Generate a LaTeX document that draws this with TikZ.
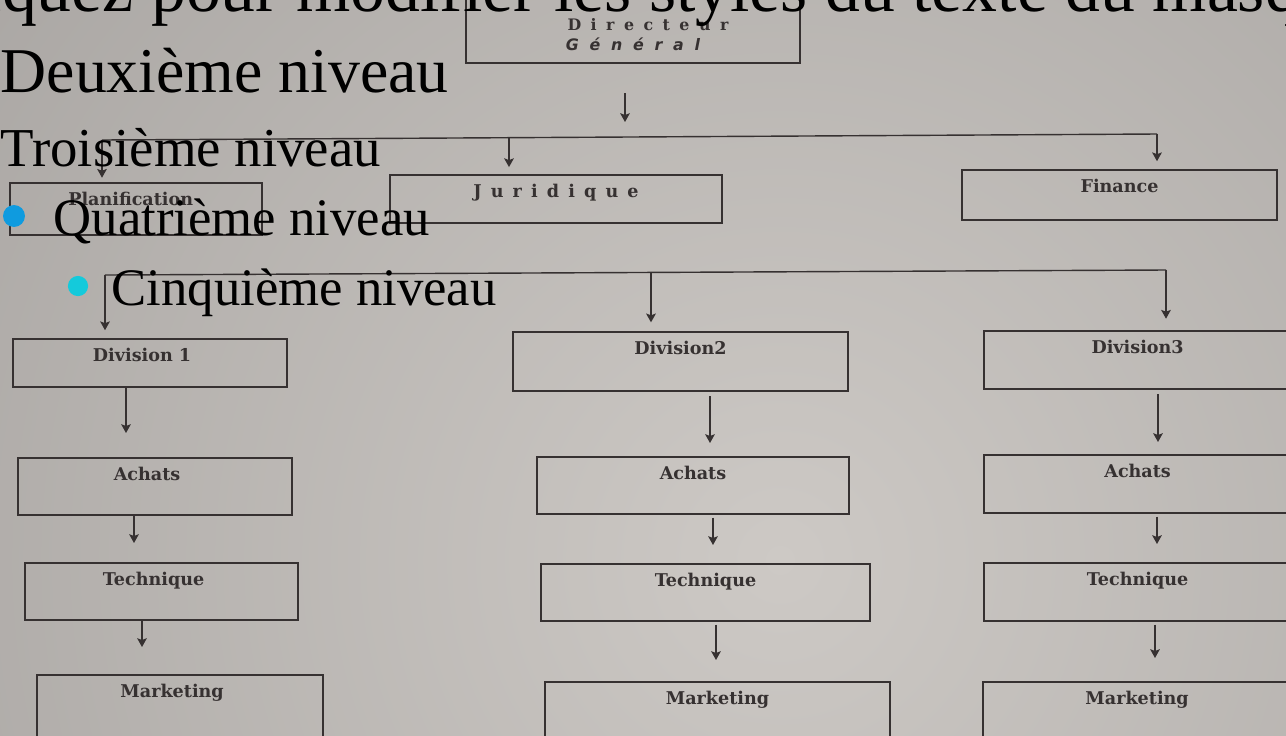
\documentclass[tikz,border=0pt]{standalone}
\usepackage{fontspec}
\setmainfont{Liberation Serif}
\newfontfamily\boxfont{DejaVu Serif}
\newfontfamily\widefont[LetterSpace=52]{DejaVu Serif}
\newfontfamily\dgfont[LetterSpace=60]{DejaVu Serif}
\newfontfamily\widesans[LetterSpace=68]{DejaVu Sans}
\usepackage{tikz}
\usetikzlibrary{arrows.meta}
\usetikzlibrary{fit}
\definecolor{bgin}{HTML}{CDC9C5}
\definecolor{bgout}{HTML}{878482}
\definecolor{ink}{HTML}{363131}
\definecolor{puce1}{HTML}{0F9BDF}
\definecolor{puce2}{HTML}{14CADB}

\begin{document}
\begin{tikzpicture}[x=0.02cm,y=-0.02cm,
  >={Stealth[length=5pt,width=5.5pt,inset=1pt]},thick,
  box/.style={draw=ink,rectangle,inner sep=0pt,outer sep=0pt,thick},
  lab/.style={anchor=north,yshift=-4pt,inner sep=1pt,text=ink,font={\boxfont\bfseries\fontsize{10}{12}\selectfont}},
  niv/.style={anchor=base west,inner sep=0pt,text=black},
  puce/.style={circle,inner sep=0pt,minimum size=12.5pt}]
  \useasboundingbox (0,0) rectangle (1286,735);
  \clip (0,0) rectangle (1286,735);
  \shade[inner color=bgin,outer color=bgout] (780,560) circle (2000);

  \node[box,fit={(466,-30)(800,63)},label={[lab,align=center,yshift=-22pt,font={\bfseries\fontsize{9}{11.3}\selectfont}]north:{\dgfont\hspace*{17pt}Directeur\\\widesans\itshape Général}}] (dg) {};

  \node[box,fit={(10,183)(262,235)},label={[lab,xshift=-3pt]north:Planification}] (plan) {};
  \node[box,fit={(390,175)(722,223)},label={[lab]north:{\widefont Juridique}}] (jur) {};
  \node[box,fit={(962,170)(1277,220)},label={[lab]north:Finance}] (fin) {};

  \node[box,fit={(13,339)(287,387)},label={[lab,xshift=-4.5pt]north:Division 1}] (divA) {};
  \node[box,fit={(18,458)(292,515)},label={[lab,xshift=-4.5pt]north:Achats}] (achA) {};
  \node[box,fit={(25,563)(298,620)},label={[lab,xshift=-4.5pt]north:Technique}] (tecA) {};
  \node[box,fit={(37,675)(323,760)},label={[lab,xshift=-4.5pt]north:Marketing}] (mktA) {};

  \node[box,fit={(513,332)(848,391)},label={[lab]north:Division2}] (divB) {};
  \node[box,fit={(537,457)(849,514)},label={[lab]north:Achats}] (achB) {};
  \node[box,fit={(541,564)(870,621)},label={[lab]north:Technique}] (tecB) {};
  \node[box,fit={(545,682)(890,760)},label={[lab]north:Marketing}] (mktB) {};

  \node[box,fit={(984,331)(1300,389)},label={[lab,xshift=-2.5pt]north:Division3}] (divC) {};
  \node[box,fit={(984,455)(1300,513)},label={[lab,xshift=-2.5pt]north:Achats}] (achC) {};
  \node[box,fit={(984,563)(1300,621)},label={[lab,xshift=-2.5pt]north:Technique}] (tecC) {};
  \node[box,fit={(983,682)(1300,760)},label={[lab,xshift=-2.5pt]north:Marketing}] (mktC) {};

  \coordinate (t0) at (625,122);
  \draw[ink,->] (t0 |- dg.south) ++(0,30) -- (t0);

  \coordinate (r1g) at (102,140);
  \coordinate (r1d) at (1157,134);
  \coordinate (j0) at (509,137.6);
  \draw[ink] (r1g) -- (r1d);
  \draw[ink,->,shorten >=3pt] (r1g) -- (r1g |- plan.north);
  \draw[ink,->,shorten >=4.5pt] (j0) -- (j0 |- jur.north);
  \draw[ink,->,shorten >=5pt] (r1d) -- (r1d |- fin.north);

  \coordinate (r2g) at (105,275);
  \coordinate (r2d) at (1166,270);
  \coordinate (d0) at (651,272.5);
  \draw[ink] (r2g) -- (r2d);
  \draw[ink,->,shorten >=5pt] (r2g) -- (r2g |- divA.north);
  \draw[ink,->,shorten >=5.5pt] (d0) -- (d0 |- divB.north);
  \draw[ink,->,shorten >=7pt] (r2d) -- (r2d |- divC.north);

  \coordinate (a1) at (126,433);
  \coordinate (a2) at (134,543);
  \coordinate (a3) at (142,647);
  \draw[ink,->] (a1 |- divA.south) -- (a1);
  \draw[ink,->] (a2 |- achA.south) -- (a2);
  \draw[ink,->] (a3 |- tecA.south) -- (a3);

  \coordinate (b1) at (710,443);
  \coordinate (b2) at (713,545);
  \coordinate (b3) at (716,660);
  \draw[ink,->,shorten <=3pt] (b1 |- divB.south) -- (b1);
  \draw[ink,->,shorten <=2pt] (b2 |- achB.south) -- (b2);
  \draw[ink,->,shorten <=2pt] (b3 |- tecB.south) -- (b3);

  \coordinate (c1) at (1158,442);
  \coordinate (c2) at (1157,544);
  \coordinate (c3) at (1155,658);
  \draw[ink,->,shorten <=3pt] (c1 |- divC.south) -- (c1);
  \draw[ink,->,shorten <=2pt] (c2 |- achC.south) -- (c2);
  \draw[ink,->,shorten <=2pt] (c3 |- tecC.south) -- (c3);

  \node[niv,font=\fontsize{39.7}{48}\selectfont] (niv1) at (-84,11) {Cliquez pour modifier les styles du texte du masque};
  \node[niv,font=\fontsize{36.3}{44}\selectfont] (niv2) at (0,92) {Deuxième niveau};
  \node[niv,font=\fontsize{31.2}{38}\selectfont] (niv3) at (0,166) {Troisième niveau};
  \node[puce,fill=puce1] (p4) at (14,216) {};
  \node[niv,font=\fontsize{30}{36}\selectfont] (niv4) at (53,235) {Quatrième niveau};
  \node[puce,fill=puce2,minimum size=11.5pt] (p5) at (78,286) {};
  \node[niv,font=\fontsize{30}{36}\selectfont] (niv5) at (111,305) {Cinquième niveau};
\end{tikzpicture}
\end{document}
